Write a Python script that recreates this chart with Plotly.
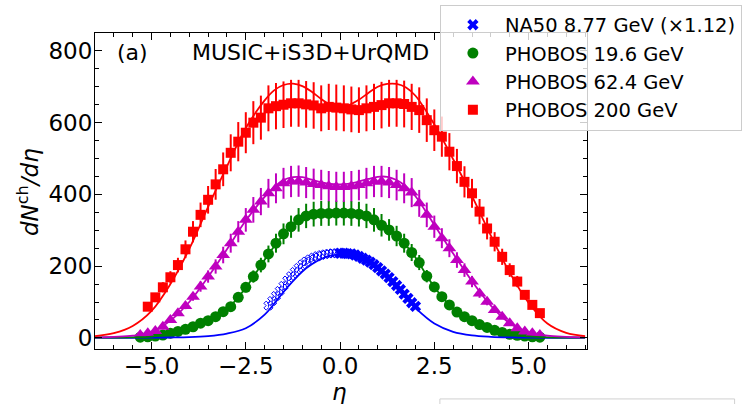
import plotly.graph_objects as go

# ---------------- data ----------------
eta_200 = [-5.1,-4.9,-4.7,-4.5,-4.3,-4.1,-3.9,-3.7,-3.5,-3.3,-3.1,-2.9,-2.7,-2.5,-2.3,-2.1,-1.9,-1.7,-1.5,-1.3,-1.1,-0.9,-0.7,-0.5,-0.3,-0.1,
           0.1,0.3,0.5,0.7,0.9,1.1,1.3,1.5,1.7,1.9,2.1,2.3,2.5,2.7,2.9,3.1,3.3,3.5,3.7,3.9,4.1,4.3,4.5,4.7,4.9,5.1,5.3]
dn_200 = [87,113,141,169,203,247,296,343,385,428,470,516,547,572,600,614,640,646,650,654,654,651,648,640,644,642,
          640,637,635,640,644,649,654,654,652,644,635,607,579,561,519,479,435,403,352,305,268,226,189,157,120,92,69]

eta_62 = [-5.3,-5.1,-4.9,-4.7,-4.5,-4.3,-4.1,-3.9,-3.7,-3.5,-3.3,-3.1,-2.9,-2.7,-2.5,-2.3,-2.1,-1.9,-1.7,-1.5,-1.3,-1.1,-0.9,-0.7,-0.5,-0.3,-0.1,
          0.1,0.3,0.5,0.7,0.9,1.1,1.3,1.5,1.7,1.9,2.1,2.3,2.5,2.7,2.9,3.1,3.3,3.5,3.7,3.9,4.1,4.3,4.5,4.7,4.9,5.1,5.3]
dn_62 = [8,13,19,31,50,69,89,115,143,171,199,231,264,296,329,357,380,403,417,431,436,437,433,429,426,423,421,
         421,423,426,431,436,436,433,426,417,405,375,343,310,278,250,217,189,157,124,101,78,59,41,27,18,13,8]

eta_19 = eta_62
dn_19 = [2,3,5,8,13,18,24,31,41,48,59,73,87,113,141,171,203,234,264,290,310,329,340,345,347,347,348,
         348,347,345,340,329,314,301,284,264,238,210,172,142,115,92,72,59,48,37,29,21,15,10,7,5,3,2]

eta_na50_open = [-1.9,-1.8,-1.7,-1.6,-1.5,-1.4,-1.3,-1.2,-1.1,-1.0,-0.9,-0.8,-0.7,-0.6,-0.5,-0.4,-0.3,-0.2,-0.1]
dn_na50_open = [90,103,117,131,145,160,172,184,195,205,213,219,224,228,231,233,235,236,236]
eta_na50 = [0.0,0.1,0.2,0.3,0.4,0.5,0.6,0.7,0.8,0.9,1.0,1.1,1.2,1.3,1.4,1.5,1.6,1.7,1.8,1.9,2.0]
dn_na50 = [236,236,235,234,231,227,222,217,211,204,196,187,178,168,157,146,135,122,110,98,88]

eta_model = [-6.5,-6.0,-5.5,-5.0,-4.5,-4.0,-3.5,-3.0,-2.5,-2.0,-1.75,-1.5,-1.25,-1.0,-0.75,-0.5,-0.25,0.0,
             0.25,0.5,0.75,1.0,1.25,1.5,1.75,2.0,2.5,3.0,3.5,4.0,4.5,5.0,5.5,6.0,6.5]
model_200 = [5,13,33,75,150,248,365,478,585,662,690,705,709,702,686,666,650,645,
             650,664,683,700,708,708,698,675,595,498,395,285,182,98,40,14,5]
model_62 = [1.5,3,6,17,48,100,170,247,327,393,420,440,448,448,441,434,429,428,
            430,436,443,449,449,440,422,395,315,235,158,90,41,16,6,3,1.5]
model_19 = [0.5,1,1.5,3.5,12,27,48,80,140,218,255,288,315,334,343,347,348,348,
            348,346,340,326,305,284,258,224,142,82,48,25,10,4,1.5,1,0.5]
model_na50 = [0.3,0.3,0.4,0.6,1,2,5,12,27,65,95,128,158,185,205,220,229,232,
              230,223,209,190,165,138,110,83,40,17,7,3,1.2,0.6,0.4,0.3,0.3]

x_tickvals = [-5.0, -2.5, 0.0, 2.5, 5.0]
x_ticktext = ["\u22125.0", "\u22122.5", "0.0", "2.5", "5.0"]
y_tickvals = [0, 200, 400, 600, 800]
y_ticktext = ["0", "200", "400", "600", "800"]

RED, MAG, GRN, BLU = "#ff0000", "#bf00bf", "#008000", "#0000ff"

fig = go.Figure()

def data_trace(x, y, color, symbol, name, size=11, show=True, pct=10):
    return go.Scatter(
        x=x, y=y, mode="markers", name=name, showlegend=show,
        marker=dict(color=color, symbol=symbol, size=size, line=dict(width=0, color=color)),
        error_y=dict(type="percent", value=pct, color=color, thickness=2, width=0),
    )

fig.add_trace(data_trace(eta_na50, dn_na50, BLU, "x", "NA50 8.77 GeV (\u00d71.12)", size=10, pct=4))
fig.add_trace(go.Scatter(x=eta_na50_open, y=dn_na50_open, mode="markers", showlegend=False,
                         marker=dict(color=BLU, symbol="x-open", size=8, line=dict(width=1, color=BLU)),
                         error_y=dict(type="percent", value=4, color=BLU, thickness=1, width=0)))
fig.add_trace(data_trace(eta_19, dn_19, GRN, "circle", "PHOBOS 19.6 GeV", size=11))
fig.add_trace(data_trace(eta_62, dn_62, MAG, "triangle-up", "PHOBOS 62.4 GeV", size=12))
fig.add_trace(data_trace(eta_200, dn_200, RED, "square", "PHOBOS 200 GeV", size=10))

for ym, col in [(model_na50, BLU), (model_19, GRN), (model_62, MAG), (model_200, RED)]:
    fig.add_trace(go.Scatter(x=eta_model, y=ym, mode="lines", showlegend=False,
                             line=dict(color=col, width=1.8, shape="spline", smoothing=1.0)))

axis_common = dict(showline=True, linecolor="black", linewidth=1, mirror="allticks",
                   ticks="inside", ticklen=7, tickwidth=1, tickcolor="black",
                   showgrid=False, zeroline=False, automargin=False,
                   tickfont=dict(size=23, family="DejaVu Sans", color="black"))

fig.update_xaxes(range=[-6.5, 6.55], tickvals=x_tickvals, ticktext=x_ticktext, ticklabelstandoff=-4,
                 minor=dict(dtick=0.5, tick0=0, ticks="inside", ticklen=4, tickcolor="black"),
                 **axis_common)
fig.update_yaxes(range=[-31, 850], tickvals=y_tickvals, ticktext=y_ticktext, ticklabelstandoff=-3,
                 minor=dict(dtick=50, tick0=0, ticks="inside", ticklen=4, tickcolor="black"),
                 **axis_common)

# axis titles as annotations for exact placement
fig.add_annotation(x=0.497, y=-0.136, xref="paper", yref="paper", xanchor="center", yanchor="middle",
                   text="<i>\u03b7</i>", showarrow=False, font=dict(size=23))
fig.add_annotation(x=-0.136, y=0.497, xref="paper", yref="paper", xanchor="center", yanchor="middle",
                   text="<i>dN</i><sup>ch</sup><i>/d\u03b7</i>", textangle=-90, showarrow=False,
                   font=dict(size=23))

fig.add_annotation(x=0.041, y=0.937, xref="paper", yref="paper", xanchor="left", yanchor="middle",
                   text="(a)", showarrow=False, font=dict(size=22))
fig.add_annotation(x=0.193, y=0.937, xref="paper", yref="paper", xanchor="left", yanchor="middle",
                   text="MUSIC+iS3D+UrQMD", showarrow=False, font=dict(size=22))

# partially visible second legend frame at the bottom right
fig.add_shape(type="rect", xref="paper", yref="paper", x0=0.701, x1=1.30, y0=-0.158, y1=-0.4,
              line=dict(color="#d0d0d0", width=1), fillcolor="rgba(255,255,255,0.8)", layer="above")

fig.update_layout(
    width=742, height=404,
    margin=dict(l=95, r=155, t=33, b=55, autoexpand=False),
    paper_bgcolor="white", plot_bgcolor="white",
    font=dict(family="DejaVu Sans", size=22, color="black"),
    showlegend=True,
    legend=dict(x=0.701, y=1.09, xanchor="left", yanchor="top",
                bgcolor="rgba(255,255,255,0.8)", bordercolor="#cccccc", borderwidth=1,
                font=dict(size=19.5), itemwidth=54, tracegroupgap=0),
)

fig.write_html("out.html", config={"displayModeBar": False},
               post_script="document.body.style.margin='0px';")
